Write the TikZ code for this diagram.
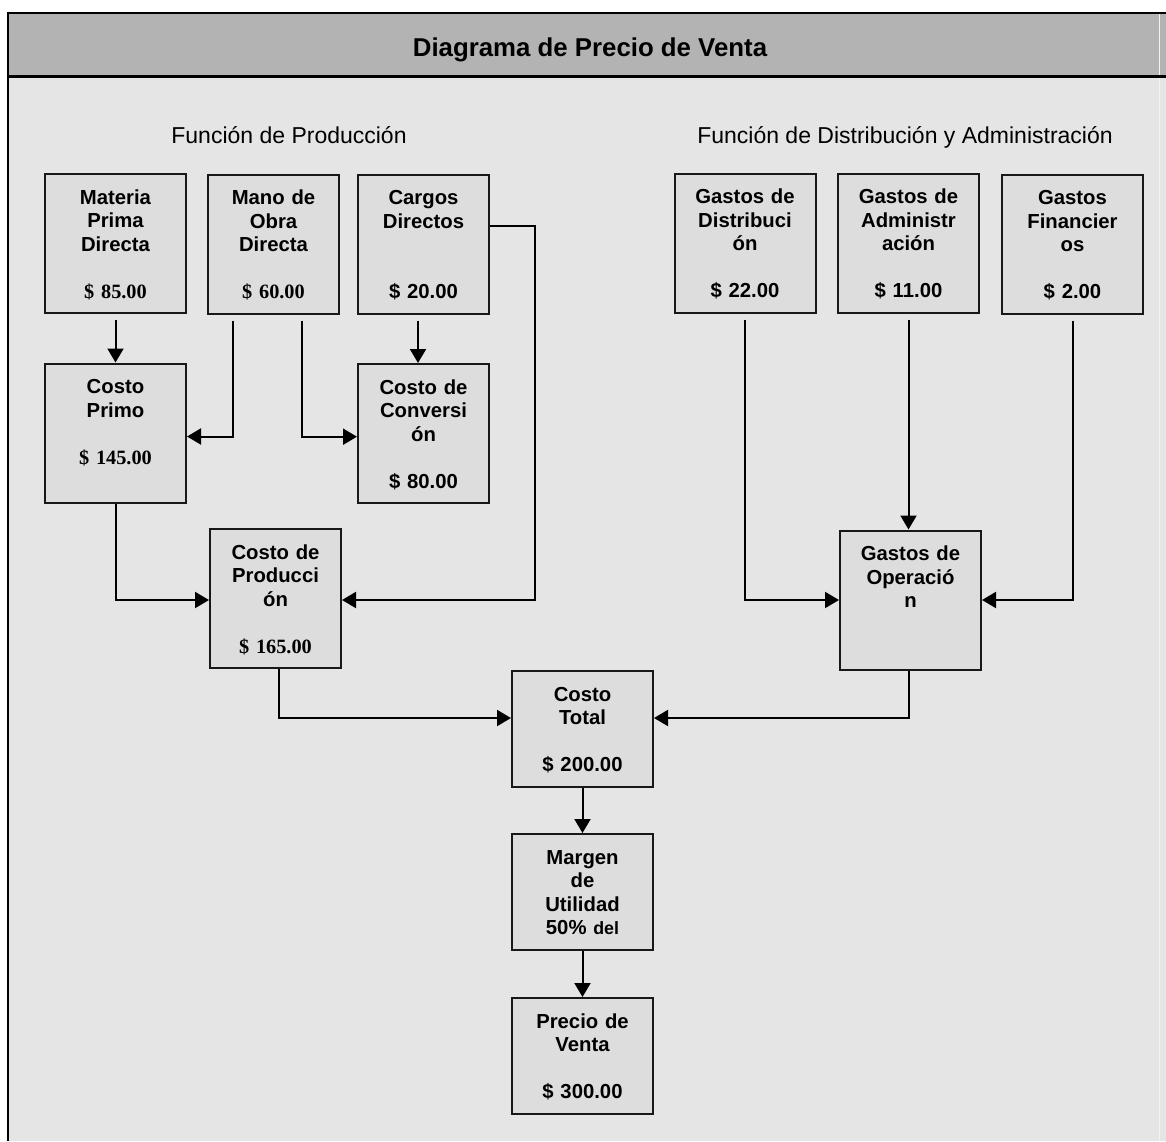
\documentclass[tikz,border=0pt]{standalone}
\usepackage{fontspec}
\setmainfont{Liberation Sans}
\newfontfamily\timesfont{Liberation Serif}
\usetikzlibrary{arrows.meta,calc}

\definecolor{barra}{RGB}{179,179,179}
\definecolor{fondo}{RGB}{229,229,229}
\definecolor{relleno}{RGB}{221,221,221}
\definecolor{borde}{RGB}{24,24,24}

\tikzset{
  caja/.style={draw=borde, line width=2pt, fill=relleno, text width=125pt,
    align=center, inner xsep=2pt, inner ysep=0pt, minimum width=141pt,
    text height=30pt, text depth=109pt,
    font=\fontsize{20.3}{23.6}\selectfont\bfseries},
  estrecha/.style={minimum width=131pt},
  baja/.style={text depth=86pt},
  flecha/.style={line width=2pt, -{Triangle[length=14pt,width=16pt]}},
}

\begin{document}
\begin{tikzpicture}[x=1pt,y=-1pt]
    \useasboundingbox (0,0) rectangle (1166,1141);
    \fill[white] (0,0) rectangle (1166,1141);

    % marco y barra de titulo
    \fill[fondo] (8,13) rectangle (1166,1141);
    \fill[barra] (8,13) rectangle (1166,76.5);
    \draw[line width=1pt, white!55!fondo] (1159,13) -- (1159,1141);
    \draw[line width=2pt] (8,13) -- (1166,13);
    \draw[line width=2.5pt] (8,76.5) -- (1166,76.5);
    \draw[line width=2.7pt] (8,11.7) -- (8,1141);

    \node[font=\fontsize{25.8}{30}\selectfont\bfseries, anchor=base] (titulo) at (590,56) {Diagrama de Precio de Venta};
    \node[font=\fontsize{23}{27}\selectfont, anchor=base] (fprod) at (289,143) {Función de Producción};
    \node[font=\fontsize{23}{27}\selectfont, anchor=base] (fdist) at (905,143) {Función de Distribución y Administración};

    % funcion de produccion
    \node[caja] (mpd) at (115.5,243.5) {Materia\\Prima\\Directa\\[\baselineskip]{\timesfont\$ 85.00}};
    \node[caja, estrecha] (mod) at (273.5,244) {Mano de\\Obra\\Directa\\[\baselineskip]{\timesfont\$ 60.00}};
    \node[caja, estrecha] (cd) at (423.5,244) {Cargos\\Directos\\[2\baselineskip]\$ 20.00};
    \node[caja] (cp) at (115.5,433) {Costo\\Primo\\[\baselineskip]{\timesfont\$ 145.00}};
    \node[caja, estrecha] (cc) at (423.5,433.5) {Costo de\\Conversi\\ón\\[\baselineskip]\$ 80.00};
    \node[caja, estrecha] (cpr) at (275.5,598.5) {Costo de\\Producci\\ón\\[\baselineskip]{\timesfont\$ 165.00}};

    % funcion de distribucion y administracion
    \node[caja] (gd) at (745,243) {Gastos de\\Distribuci\\ón\\[\baselineskip]\$ 22.00};
    \node[caja] (ga) at (908.5,243) {Gastos de\\Administr\\ación\\[\baselineskip]\$ 11.00};
    \node[caja] (gf) at (1072.5,244) {Gastos\\Financier\\os\\[\baselineskip]\$ 2.00};
    \node[caja] (gop) at (910.5,600) {Gastos de\\Operació\\n};

    % costo total y precio
    \node[caja, baja] (ct) at (582.5,729) {Costo\\Total\\[\baselineskip]\$ 200.00};
    \node[caja, baja] (mu) at (582.5,892) {Margen\\de\\Utilidad\\50\% {\fontsize{17.8}{23.6}\selectfont del}};
    \node[caja, baja] (pv) at (582.5,1056) {Precio de\\Venta\\[\baselineskip]\$ 300.00};

    \coordinate (cdcodo) at (535,600);

    \draw[flecha, shorten <=6pt] (mpd.south) -- (cp.north);
    \draw[flecha, shorten <=6pt] ([xshift=-40.5pt]mod.south) |- ([yshift=-3.5pt]cp.east);
    \draw[flecha, shorten <=6pt] ([xshift=28.5pt]mod.south) |- ([yshift=-3.2pt]cc.west);
    \draw[flecha, shorten <=6pt] ([xshift=-5.5pt]cd.south) -- ([xshift=-5.5pt]cc.north);
    \draw[flecha] ([yshift=18pt]cd.east) -| (cdcodo) -- (cdcodo -| cpr.east);
    \draw[flecha] (cp.south) |- ([yshift=-1.5pt]cpr.west);
    \draw[flecha] ([xshift=3pt]cpr.south) |- ([yshift=11pt]ct.west);

    \draw[flecha, shorten <=6pt] (gd.south) |- (gop.west);
    \draw[flecha, shorten <=6pt] (ga.south) -- (ga.south |- gop.north);
    \draw[flecha, shorten <=6pt] (gf.south) |- (gop.east);
    \draw[flecha] ([xshift=-1.5pt]gop.south) |- ([yshift=11pt]ct.east);

    \draw[flecha] (ct.south) -- (mu.north);
    \draw[flecha] (mu.south) -- (pv.north);
\end{tikzpicture}
\end{document}
